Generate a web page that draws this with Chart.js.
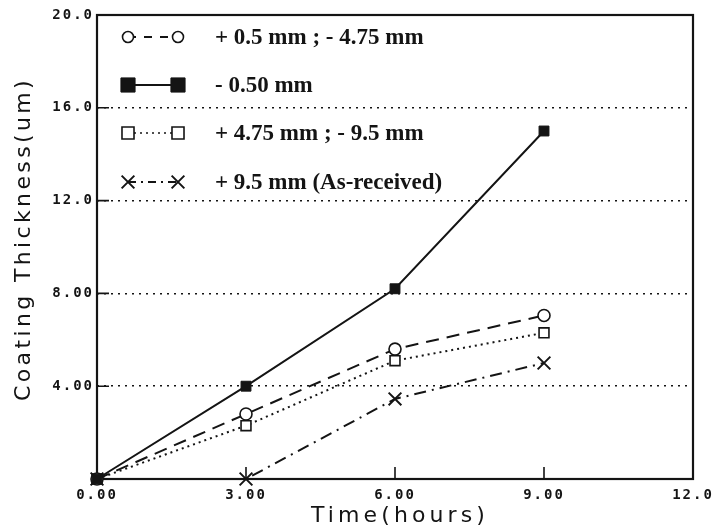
<!DOCTYPE html>
<html>
<head>
<meta charset="utf-8">
<title>Coating thickness vs time</title>
<script src="https://cdn.jsdelivr.net/npm/chart.js@4.4.1/dist/chart.umd.min.js"></script>
<style>
  html, body { margin: 0; padding: 0; background: #fff; }
  #wrap { width: 717px; height: 530px; }
</style>
</head>
<body>
<div id="wrap"><canvas id="coating" width="717" height="530"></canvas></div>
<script>
// measured coating thickness (um) after each immersion time (hours)
const hours = [0, 3, 6, 9];
const minus050 = [0, 4.0, 8.2, 15.0];
const plus05minus475 = [0, 2.8, 5.6, 7.05];
const plus475minus95 = [0, 2.3, 5.1, 6.3];
const plus95 = [0, 0, 3.45, 5.0];

const seriesLabels = [
  "+ 0.5 mm ; - 4.75 mm",
  "- 0.50 mm",
  "+ 4.75 mm ; - 9.5 mm",
  "+ 9.5 mm (As-received)"
];

const xTickValues = [0, 3, 6, 9, 12];
const xTickLabels = ["0.00", "3.00", "6.00", "9.00", "12.0"];
// the origin is labelled once, on the time axis
const yTickValues = [4, 8, 12, 16, 20];
const yTickLabels = ["4.00", "8.00", "12.0", "16.0", "20.0"];

const xTitle = "Time(hours)";
const yTitle = "Coating Thickness(um)";

const toPoints = (vals) => vals.map((v, i) => ({ x: hours[i], y: v }));
const INK = "#141414";

// filled squares first so they end up on top at the origin
const datasets = [
  {
    label: seriesLabels[1], data: toPoints(minus050),
    borderColor: INK, borderWidth: 2, borderDash: [],
    pointStyle: "rect", pointRadius: 7, pointBackgroundColor: INK,
    pointBorderColor: INK, pointBorderWidth: 1, legendRadius: 10
  },
  {
    label: seriesLabels[0], data: toPoints(plus05minus475),
    borderColor: INK, borderWidth: 2, borderDash: [13, 8],
    pointStyle: "circle", pointRadius: 6, pointBackgroundColor: "#fff",
    pointBorderColor: INK, pointBorderWidth: 1.6, legendRadius: 5.5
  },
  {
    label: seriesLabels[2], data: toPoints(plus475minus95),
    borderColor: INK, borderWidth: 2, borderDash: [2, 4],
    pointStyle: "rect", pointRadius: 7, pointBackgroundColor: "#fff",
    pointBorderColor: INK, pointBorderWidth: 1.6, legendRadius: 8.5
  },
  {
    label: seriesLabels[3], data: toPoints(plus95),
    borderColor: INK, borderWidth: 2, borderDash: [12, 6, 2, 6],
    pointStyle: "crossRot", pointRadius: 9, pointBackgroundColor: "#fff",
    pointBorderColor: INK, pointBorderWidth: 2, legendRadius: 9
  }
];
const legendOrder = [1, 0, 2, 3];

// axis frame plus short inward tick marks
const frameAndTicks = {
  id: "frameAndTicks",
  beforeDraw(chart) {
    chart.ctx.letterSpacing = "2px";
  },
  beforeDatasetsDraw(chart) {
    const { ctx, chartArea: a, scales: { x, y } } = chart;
    ctx.letterSpacing = "0px";
    ctx.save();
    ctx.strokeStyle = INK;
    ctx.setLineDash([]);
    ctx.lineWidth = 2.2;
    ctx.strokeRect(a.left, a.top, a.right - a.left, a.bottom - a.top);
    ctx.lineWidth = 1.6;
    ctx.beginPath();
    yTickValues.slice(0, -1).forEach((v) => {
      const py = y.getPixelForValue(v);
      ctx.moveTo(a.left, py);
      ctx.lineTo(a.left + 12, py);
    });
    xTickValues.slice(1, -1).forEach((v) => {
      const px = x.getPixelForValue(v);
      ctx.moveTo(px, a.bottom);
      ctx.lineTo(px, a.bottom - 12);
    });
    ctx.stroke();
    ctx.restore();
  }
};

// legend with marker - line - marker samples, drawn inside the plot
const sampleLegend = {
  id: "sampleLegend",
  afterDraw(chart) {
    const { ctx, chartArea: a } = chart;
    const x1 = a.left + 31, x2 = a.left + 81, tx = a.left + 118;
    const rowY = [22, 70, 118, 167];
    ctx.save();
    ctx.letterSpacing = "0px";
    legendOrder.forEach((di, row) => {
      const ds = datasets[di];
      const py = a.top + rowY[row];
      ctx.strokeStyle = INK;
      ctx.lineWidth = ds.borderDash.length === 2 && ds.borderDash[0] < 4 ? 1.6 : 2;
      ctx.setLineDash(ds.borderDash.length === 4 ? [8, 5, 2, 5] : ds.borderDash.length ? [Math.min(ds.borderDash[0], 8), ds.borderDash[1]] : []);
      ctx.beginPath();
      ctx.moveTo(x1, py);
      ctx.lineTo(x2, py);
      ctx.stroke();
      ctx.setLineDash([]);
      ctx.fillStyle = ds.pointBackgroundColor;
      ctx.strokeStyle = ds.pointBorderColor;
      ctx.lineWidth = ds.pointBorderWidth;
      [x1, x2].forEach((px) => {
        Chart.helpers.drawPoint(ctx, {
          pointStyle: ds.pointStyle, radius: ds.legendRadius,
          rotation: 0, borderWidth: ds.pointBorderWidth
        }, px, py);
      });
      ctx.fillStyle = INK;
      ctx.font = "bold 23px 'Liberation Serif', 'Times New Roman', serif";
      ctx.textAlign = "left";
      ctx.textBaseline = "middle";
      ctx.fillText(ds.label, tx, py + 1);
    });
    ctx.restore();
  }
};

// spaced-out axis titles
const axisTitles = {
  id: "axisTitles",
  afterDraw(chart) {
    const { ctx, chartArea: a } = chart;
    const spaced = (text, size, target) => {
      ctx.font = size + "px 'DejaVu Sans', sans-serif";
      ctx.letterSpacing = "0px";
      const w = ctx.measureText(text).width;
      ctx.letterSpacing = Math.max(0, (target - w) / text.length) + "px";
    };
    ctx.save();
    ctx.fillStyle = INK;
    ctx.textAlign = "center";
    ctx.textBaseline = "middle";
    spaced(xTitle, 22, 178);
    ctx.fillText(xTitle, a.left + 303, a.bottom + 37);
    ctx.translate(24, a.top + 224);
    ctx.rotate(-Math.PI / 2);
    spaced(yTitle, 22, 324);
    ctx.fillText(yTitle, 0, 0);
    ctx.restore();
  }
};

const tickFont = { family: "'DejaVu Sans Mono', monospace", size: 14, weight: "bold" };

new Chart(document.getElementById("coating"), {
  type: "line",
  data: { datasets },
  options: {
    responsive: false,
    animation: false,
    layout: { padding: { top: 15, right: 24, left: 0, bottom: 0 } },
    clip: false,
    elements: { line: { tension: 0, fill: false } },
    plugins: { legend: { display: false }, tooltip: { enabled: false } },
    scales: {
      x: {
        type: "linear", min: 0, max: 12,
        afterBuildTicks: (s) => { s.ticks = xTickValues.map((v) => ({ value: v })); },
        afterFit: (s) => { s.height = 51; s.paddingLeft = 0; s.paddingRight = 0; },
        grid: { display: false, drawTicks: false },
        border: { display: false },
        ticks: {
          color: INK, font: tickFont, padding: 8, maxRotation: 0,
          callback: (v) => xTickLabels[xTickValues.indexOf(v)]
        }
      },
      y: {
        type: "linear", min: 0, max: 20,
        afterBuildTicks: (s) => { s.ticks = yTickValues.map((v) => ({ value: v })); },
        afterFit: (s) => { s.width = 97; s.paddingTop = 0; s.paddingBottom = 0; },
        grid: {
          drawTicks: false,
          color: (c) => (c.tick && c.tick.value === 20) ? "rgba(0,0,0,0)" : INK,
          lineWidth: 1.6
        },
        border: { display: false, dash: [2, 5] },
        ticks: {
          color: INK, font: tickFont, padding: 3,
          callback: (v) => yTickLabels[yTickValues.indexOf(v)]
        }
      }
    }
  },
  plugins: [frameAndTicks, sampleLegend, axisTitles]
});
</script>
</body>
</html>
